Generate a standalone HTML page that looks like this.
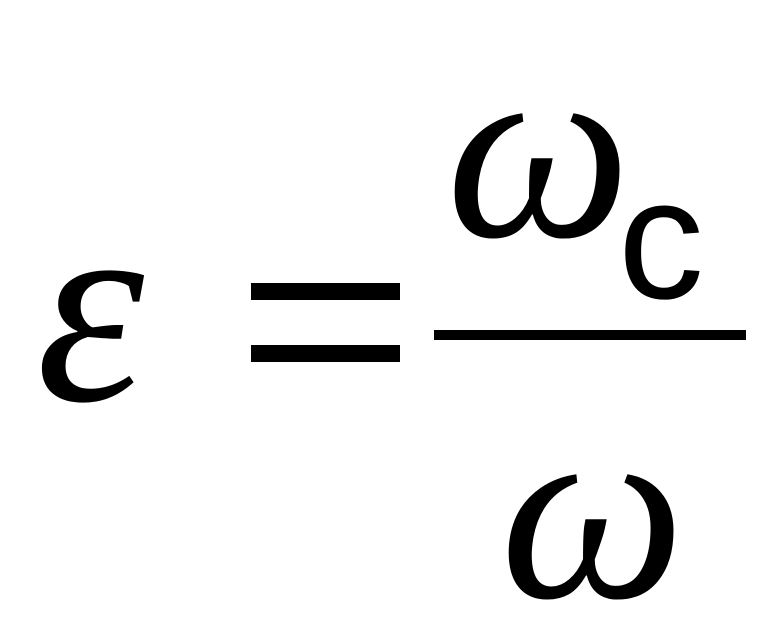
<!DOCTYPE html>
<html><head><meta charset="utf-8"><style>html,body{margin:0;padding:0;background:#fff;width:783px;height:639px;overflow:hidden}</style></head>
<body>
<svg width="783" height="639" viewBox="0 0 783 639" xmlns="http://www.w3.org/2000/svg">
<rect width="783" height="639" fill="#fff"/>
<text x="36" y="400" font-family="Liberation Serif, serif" font-style="italic" font-size="275" fill="#000">ε</text>
<rect x="251" y="283" width="149" height="17" fill="#000"/>
<rect x="251" y="345" width="149" height="17" fill="#000"/>
<rect x="434" y="330" width="312" height="10" fill="#000"/>
<text x="446" y="236" font-family="Liberation Serif, serif" font-style="italic" font-size="262" fill="#000">ω</text>
<text x="618" y="298" font-family="Liberation Sans, sans-serif" font-size="172" fill="#000">c</text>
<text x="500" y="597" font-family="Liberation Serif, serif" font-style="italic" font-size="262" fill="#000">ω</text>
</svg>
</body></html>
